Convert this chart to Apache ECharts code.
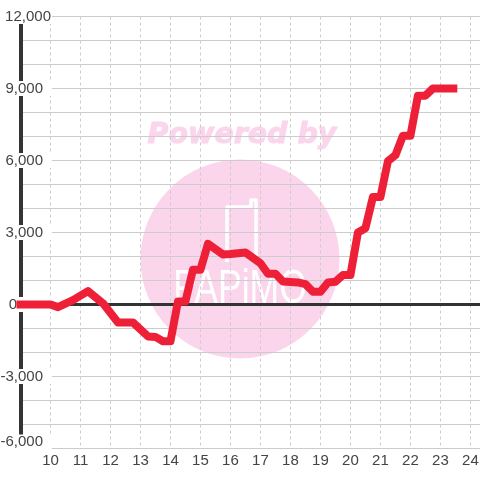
<!DOCTYPE html>
<html>
<head>
<meta charset="utf-8">
<style>html,body{margin:0;background:#fff}#chart{width:480px;height:480px}</style>
<script src="https://cdn.jsdelivr.net/npm/echarts@6/dist/echarts.min.js"></script>
</head>
<body>
<div id="chart"></div>
<script>
// values: [hour, value]
var profit = [
    [9, 0], [10, 0], [10.25, -110], [10.75, 180], [11.25, 560], [11.75, 50],
    [12.25, -750], [12.75, -750], [13.25, -1330], [13.5, -1350], [13.75, -1530], [14, -1530],
    [14.25, 130], [14.5, 130], [14.75, 1450], [15, 1450], [15.25, 2530], [15.75, 2080],
    [16, 2100], [16.5, 2170], [17, 1720], [17.25, 1280], [17.5, 1280], [17.75, 960],
    [18.25, 920], [18.5, 850], [18.75, 530], [19, 530], [19.25, 920], [19.5, 950],
    [19.75, 1230], [20, 1230], [20.25, 3000], [20.5, 3180], [20.75, 4480], [21, 4480],
    [21.25, 5970], [21.5, 6220], [21.75, 7030], [22, 7030], [22.25, 8700], [22.5, 8700],
    [22.75, 9000], [23.43, 9000]
];
var xMin = 9;
var xMax = 24.32;
var yMin = -6000;
var yMax = 12000;
var yLabels = [12000, 9000, 6000, 3000, 0, -3000, -6000];
var logoText = 'PAPiMO';

var chart = echarts.init(document.getElementById('chart'));

function fmtY(v) {
    if (yLabels.indexOf(v) < 0) return '';
    var s = Math.abs(v).toString().replace(/\B(?=(\d{3})+$)/g, ',');
    return v < 0 ? '-' + s : s;
}

chart.setOption({
    animation: false,
    grid: {left: 20.5, right: 0, top: 16.5, bottom: 31.5, outerBoundsMode: 'none'},
    graphic: [
        {type: 'circle', z: -10, silent: true, shape: {cx: 240, cy: 259, r: 99.5}, style: {fill: '#fbd5ec'}},
        {type: 'text', z: -10, silent: true, x: 242, y: 136, style: {
            text: 'Powered by', fill: '#fbd5ec', stroke: '#fbd5ec', lineWidth: 1, align: 'center', verticalAlign: 'middle',
            font: 'italic bold 28.5px "DejaVu Sans"'
        }},
        {type: 'text', z: -9, silent: true, x: 240, y: 290, scaleX: 0.74, style: {
            text: logoText, fill: '#fff', align: 'center', verticalAlign: 'middle',
            font: '48px "Liberation Sans"'
        }},
        {type: 'polyline', z: -9, silent: true, shape: {points: [[227, 262], [227, 207], [251, 207], [251, 200], [256, 200], [256, 262]]},
            style: {fill: 'none', stroke: '#fff', lineWidth: 3.5, lineJoin: 'round'}}
    ],
    xAxis: [
        {
            type: 'value', min: xMin, max: xMax, interval: 1,
            axisLine: {show: false, onZero: false},
            axisTick: {show: false},
            axisLabel: {
                color: '#444', fontSize: 15, fontFamily: 'Liberation Sans', margin: 5,
                showMinLabel: false, showMaxLabel: false,
                formatter: function (v) { return v > xMin && v < xMax ? String(v) : ''; }
            },
            splitLine: {show: true, lineStyle: {color: '#ccc', type: [3, 3], width: 1}}
        },
        {
            // the heavy zero line
            type: 'value', min: xMin, max: xMax, position: 'bottom',
            axisLine: {show: true, onZero: true, lineStyle: {color: '#333', width: 3}},
            axisTick: {show: false}, axisLabel: {show: false}, splitLine: {show: false}
        }
    ],
    yAxis: {
        type: 'value', min: yMin, max: yMax, interval: 1000,
        axisLine: {show: true, onZero: false, lineStyle: {color: '#333', width: 4}},
        axisTick: {show: false},
        axisLabel: {
            color: '#444', fontSize: 15, fontFamily: 'Liberation Sans', margin: -31.5,
            align: 'right', backgroundColor: '#fff', padding: [0, 1, 0, 1],
            formatter: function (v) {
                var s = fmtY(v);
                if (!s) return '';
                if (v === 12000) return s;
                if (v === 0) return '{z|' + s + '}';
                return (v === yMin ? '{b|' : '{n|') + s + '}';
            },
            rich: {
                z: {fontSize: 15, fontFamily: 'Liberation Sans', color: '#444', padding: [0, 34, 0, 0]},
                n: {fontSize: 15, fontFamily: 'Liberation Sans', color: '#444', padding: [0, 8, 0, 0]},
                b: {fontSize: 15, fontFamily: 'Liberation Sans', color: '#444', padding: [0, 8, 13, 0]}
            }
        },
        splitLine: {show: true, lineStyle: {color: '#ccc', width: 1}}
    },
    series: [{
        type: 'line', data: profit, xAxisIndex: 0, showSymbol: false, smooth: false, z: 5, clip: false,
        lineStyle: {color: '#ee2038', width: 8, cap: 'square', join: 'round'}
    }]
});
</script>
</body>
</html>
